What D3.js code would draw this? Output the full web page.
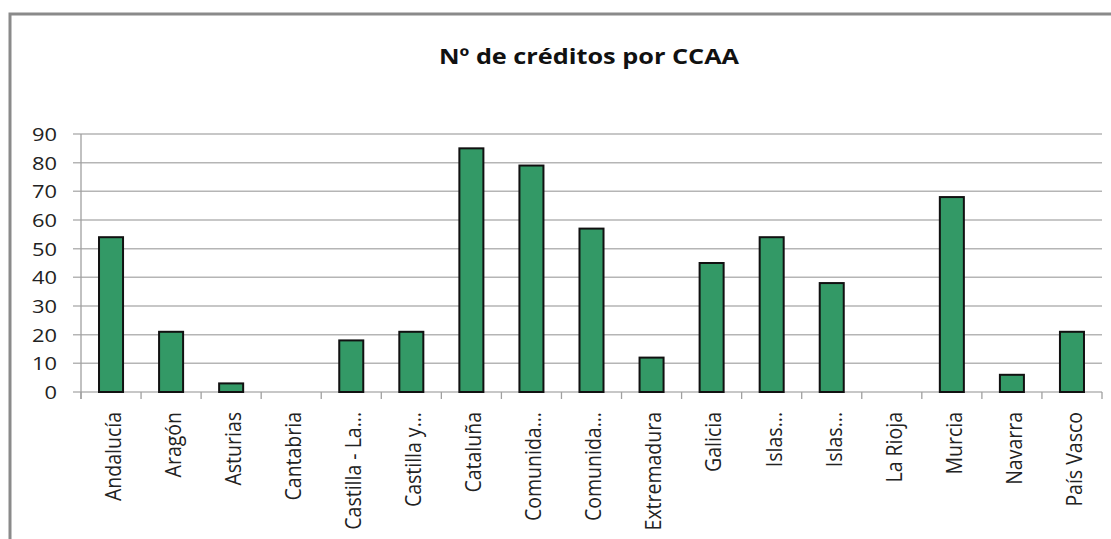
<!DOCTYPE html>
<html>
<head>
<meta charset="utf-8">
<script src="https://cdn.jsdelivr.net/npm/d3@7"></script>
<style>
  body { margin: 0; background: #fff; }
  svg { display: block; }
  .lbl { font-family: "Open Sans", sans-serif; fill: #222; }
</style>
</head>
<body>
<div id="chart"></div>
<script>
// data
const regions = ["Andalucía", "Aragón", "Asturias", "Cantabria", "Castilla - La...", "Castilla y...",
  "Cataluña", "Comunida...", "Comunida...", "Extremadura", "Galicia", "Islas...", "Islas...",
  "La Rioja", "Murcia", "Navarra", "País Vasco"];
const credits = [54, 21, 3, 0, 18, 21, 85, 79, 57, 12, 45, 54, 38, 0, 68, 6, 21];
const yTicks = [0, 10, 20, 30, 40, 50, 60, 70, 80, 90];
const title = "Nº de créditos por CCAA";

const W = 1111, H = 539;
const plot = { left: 81, right: 1102, top: 134, bottom: 392 };
const stretch = 1.15; // source picture looks widened, so text gets scaled in x

const svg = d3.select("#chart").append("svg")
  .attr("width", W).attr("height", H);

// chart frame (runs off the right/bottom edge like the screenshot)
svg.append("rect")
  .attr("x", 10).attr("y", 14)
  .attr("width", W + 20).attr("height", H + 20)
  .attr("fill", "#fff")
  .attr("stroke", "#8a8a8a")
  .attr("stroke-width", 3);

const data = regions.map((r, i) => ({ idx: i, name: r, value: credits[i] }));

const x = d3.scaleBand()
  .domain(data.map(d => d.idx))
  .range([plot.left, plot.right])
  .paddingInner(0.6)
  .paddingOuter(0.3);

const y = d3.scaleLinear()
  .domain([0, 90])
  .range([plot.bottom, plot.top]);

// gridlines + y ticks
svg.append("g")
  .selectAll("line")
  .data(yTicks)
  .join("line")
    .attr("x1", plot.left - 8)
    .attr("x2", plot.right)
    .attr("y1", d => y(d))
    .attr("y2", d => y(d))
    .attr("stroke", "#b5b5b5")
    .attr("stroke-width", 1.5);

// y axis line
svg.append("line")
  .attr("x1", plot.left).attr("x2", plot.left)
  .attr("y1", y(90)).attr("y2", plot.bottom + 7)
  .attr("stroke", "#a0a0a0").attr("stroke-width", 1.3);

// x category ticks at band edges
const step = x.step();
const edges = d3.range(regions.length + 1).map(i => plot.left + i * step);
svg.append("g")
  .selectAll("line")
  .data(edges)
  .join("line")
    .attr("x1", d => d).attr("x2", d => d)
    .attr("y1", plot.bottom).attr("y2", plot.bottom + 7)
    .attr("stroke", "#a0a0a0").attr("stroke-width", 1.3);

// y tick labels
svg.append("g")
  .selectAll("text")
  .data(yTicks)
  .join("text")
    .attr("class", "lbl")
    .attr("transform", d => `translate(57, ${y(d)}) scale(${stretch},1)`)
    .attr("text-anchor", "end")
    .attr("dy", "0.36em")
    .style("font-size", "19px")
    .text(d => d);

// bars
svg.append("g")
  .selectAll("rect")
  .data(data)
  .join("rect")
    .attr("x", d => x(d.idx))
    .attr("y", d => y(d.value))
    .attr("width", x.bandwidth())
    .attr("height", d => plot.bottom - y(d.value))
    .attr("fill", "#339966")
    .attr("stroke", "#111")
    .attr("stroke-width", 2)
    .style("display", d => d.value > 0 ? null : "none");

// rotated category labels
svg.append("g")
  .selectAll("text")
  .data(data)
  .join("text")
    .attr("class", "lbl")
    .attr("transform", d => `translate(${x(d.idx) + x.bandwidth() / 2 + 2}, 412) scale(${stretch},1) rotate(-90)`)
    .attr("text-anchor", "end")
    .attr("dy", "0.35em")
    .style("font-size", "19.5px")
    .text(d => d.name);

// title
svg.append("text")
  .attr("class", "lbl")
  .attr("transform", `translate(589, 64) scale(${stretch},1)`)
  .attr("text-anchor", "middle")
  .style("font-size", "22px")
  .style("font-weight", "bold")
  .style("fill", "#111")
  .text(title);
</script>
</body>
</html>
